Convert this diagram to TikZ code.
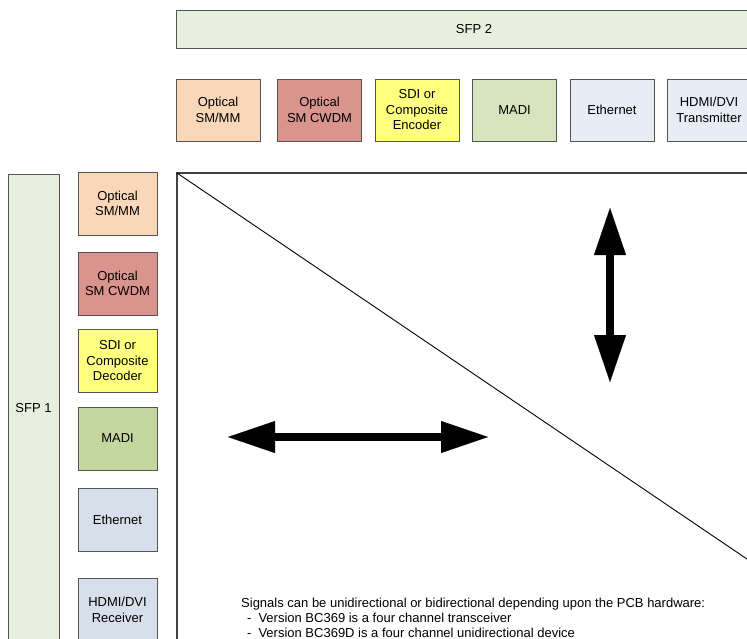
\documentclass[tikz,border=0pt]{standalone}
\usepackage{fontspec}
\setmainfont{Liberation Sans}
\usetikzlibrary{arrows.meta}
\definecolor{sfpfill}{HTML}{E9EFDF}
\definecolor{orangefill}{HTML}{FAD7B8}
\definecolor{redfill}{HTML}{D9948E}
\definecolor{yellowfill}{HTML}{FFFF80}
\definecolor{madiA}{HTML}{D7E4BD}
\definecolor{madiB}{HTML}{C4D79F}
\definecolor{blueA}{HTML}{E8ECF4}
\definecolor{blueB}{HTML}{D6DFEA}
\definecolor{edge}{HTML}{555555}
\tikzset{
  box/.style={draw=edge, line width=0.8pt, align=center, inner sep=0pt,
    font=\fontsize{13}{15.5}\selectfont},
  topbox/.style={box, minimum width=84, minimum height=62},
  leftbox/.style={box, minimum width=79, minimum height=63},
  bigarrow/.style={line width=8pt, {Triangle[length=47pt,width=32pt,line width=0.1pt]}-{Triangle[length=47pt,width=32pt,line width=0.1pt]}},
}
\begin{document}
\begin{tikzpicture}[x=1pt,y=-1pt]
\clip (0,0) rectangle (747,638);
\useasboundingbox (0,0) rectangle (747,638);
\fill[white] (0,0) rectangle (747,638);
% SFP 2
\node[box, fill=sfpfill, minimum width=596, minimum height=38] (sfp2) at (474,29.5) {SFP 2};
% top row
\node[topbox, fill=orangefill] (t1) at (218,110) {Optical\\SM/MM};
\node[topbox, fill=redfill] (t2) at (319.5,110) {Optical\\SM CWDM};
\node[topbox, fill=yellowfill] (t3) at (417,110) {SDI or\\Composite\\Encoder};
\node[topbox, fill=madiA] (t4) at (514.5,110) {MADI};
\node[topbox, fill=blueA] (t5) at (612,110) {Ethernet};
\node[topbox, fill=blueA] (t6) at (709,110) {HDMI/DVI\\Transmitter};
% SFP 1
\node[box, fill=sfpfill, minimum width=51, minimum height=468] (sfp1) at (33.5,408) {SFP 1};
% left column
\node[leftbox, fill=orangefill] (l1) at (117.5,203.5) {Optical\\SM/MM};
\node[leftbox, fill=redfill] (l2) at (117.5,283.5) {Optical\\SM CWDM};
\node[leftbox, fill=yellowfill] (l3) at (117.5,361) {SDI or\\Composite\\Decoder};
\node[leftbox, fill=madiB] (l4) at (117.5,438.5) {MADI};
\node[leftbox, fill=blueB] (l5) at (117.5,519.5) {Ethernet};
\node[leftbox, fill=blueB] (l6) at (117.5,610) {HDMI/DVI\\Receiver};
% big frame
\coordinate (c0) at (177,173);
\coordinate (cR) at (760,173);
\coordinate (cB) at (177,650);
\coordinate (cD) at (770,574.6);
\draw[draw=black!75, line width=1.3pt] (cR) -- (c0) -- (cB);
\draw[black, line width=0.9pt] (c0) -- (cD);
% arrows
\coordinate (vA) at (610,208);
\coordinate (vB) at (610,382);
\coordinate (hA) at (228,437);
\coordinate (hB) at (488,437);
\draw[bigarrow] (vA) -- (vB);
\draw[bigarrow] (hA) -- (hB);
% note
\node[anchor=north west, inner sep=0pt, align=left, font=\fontsize{13}{15}\selectfont] (note) at (241,597.5)
 {Signals can be unidirectional or bidirectional depending upon the PCB hardware:\\
  \hspace*{0.45em}-\hspace{0.55em}Version BC369 is a four channel transceiver\\
  \hspace*{0.45em}-\hspace{0.55em}Version BC369D is a four channel unidirectional device};
\end{tikzpicture}
\end{document}
